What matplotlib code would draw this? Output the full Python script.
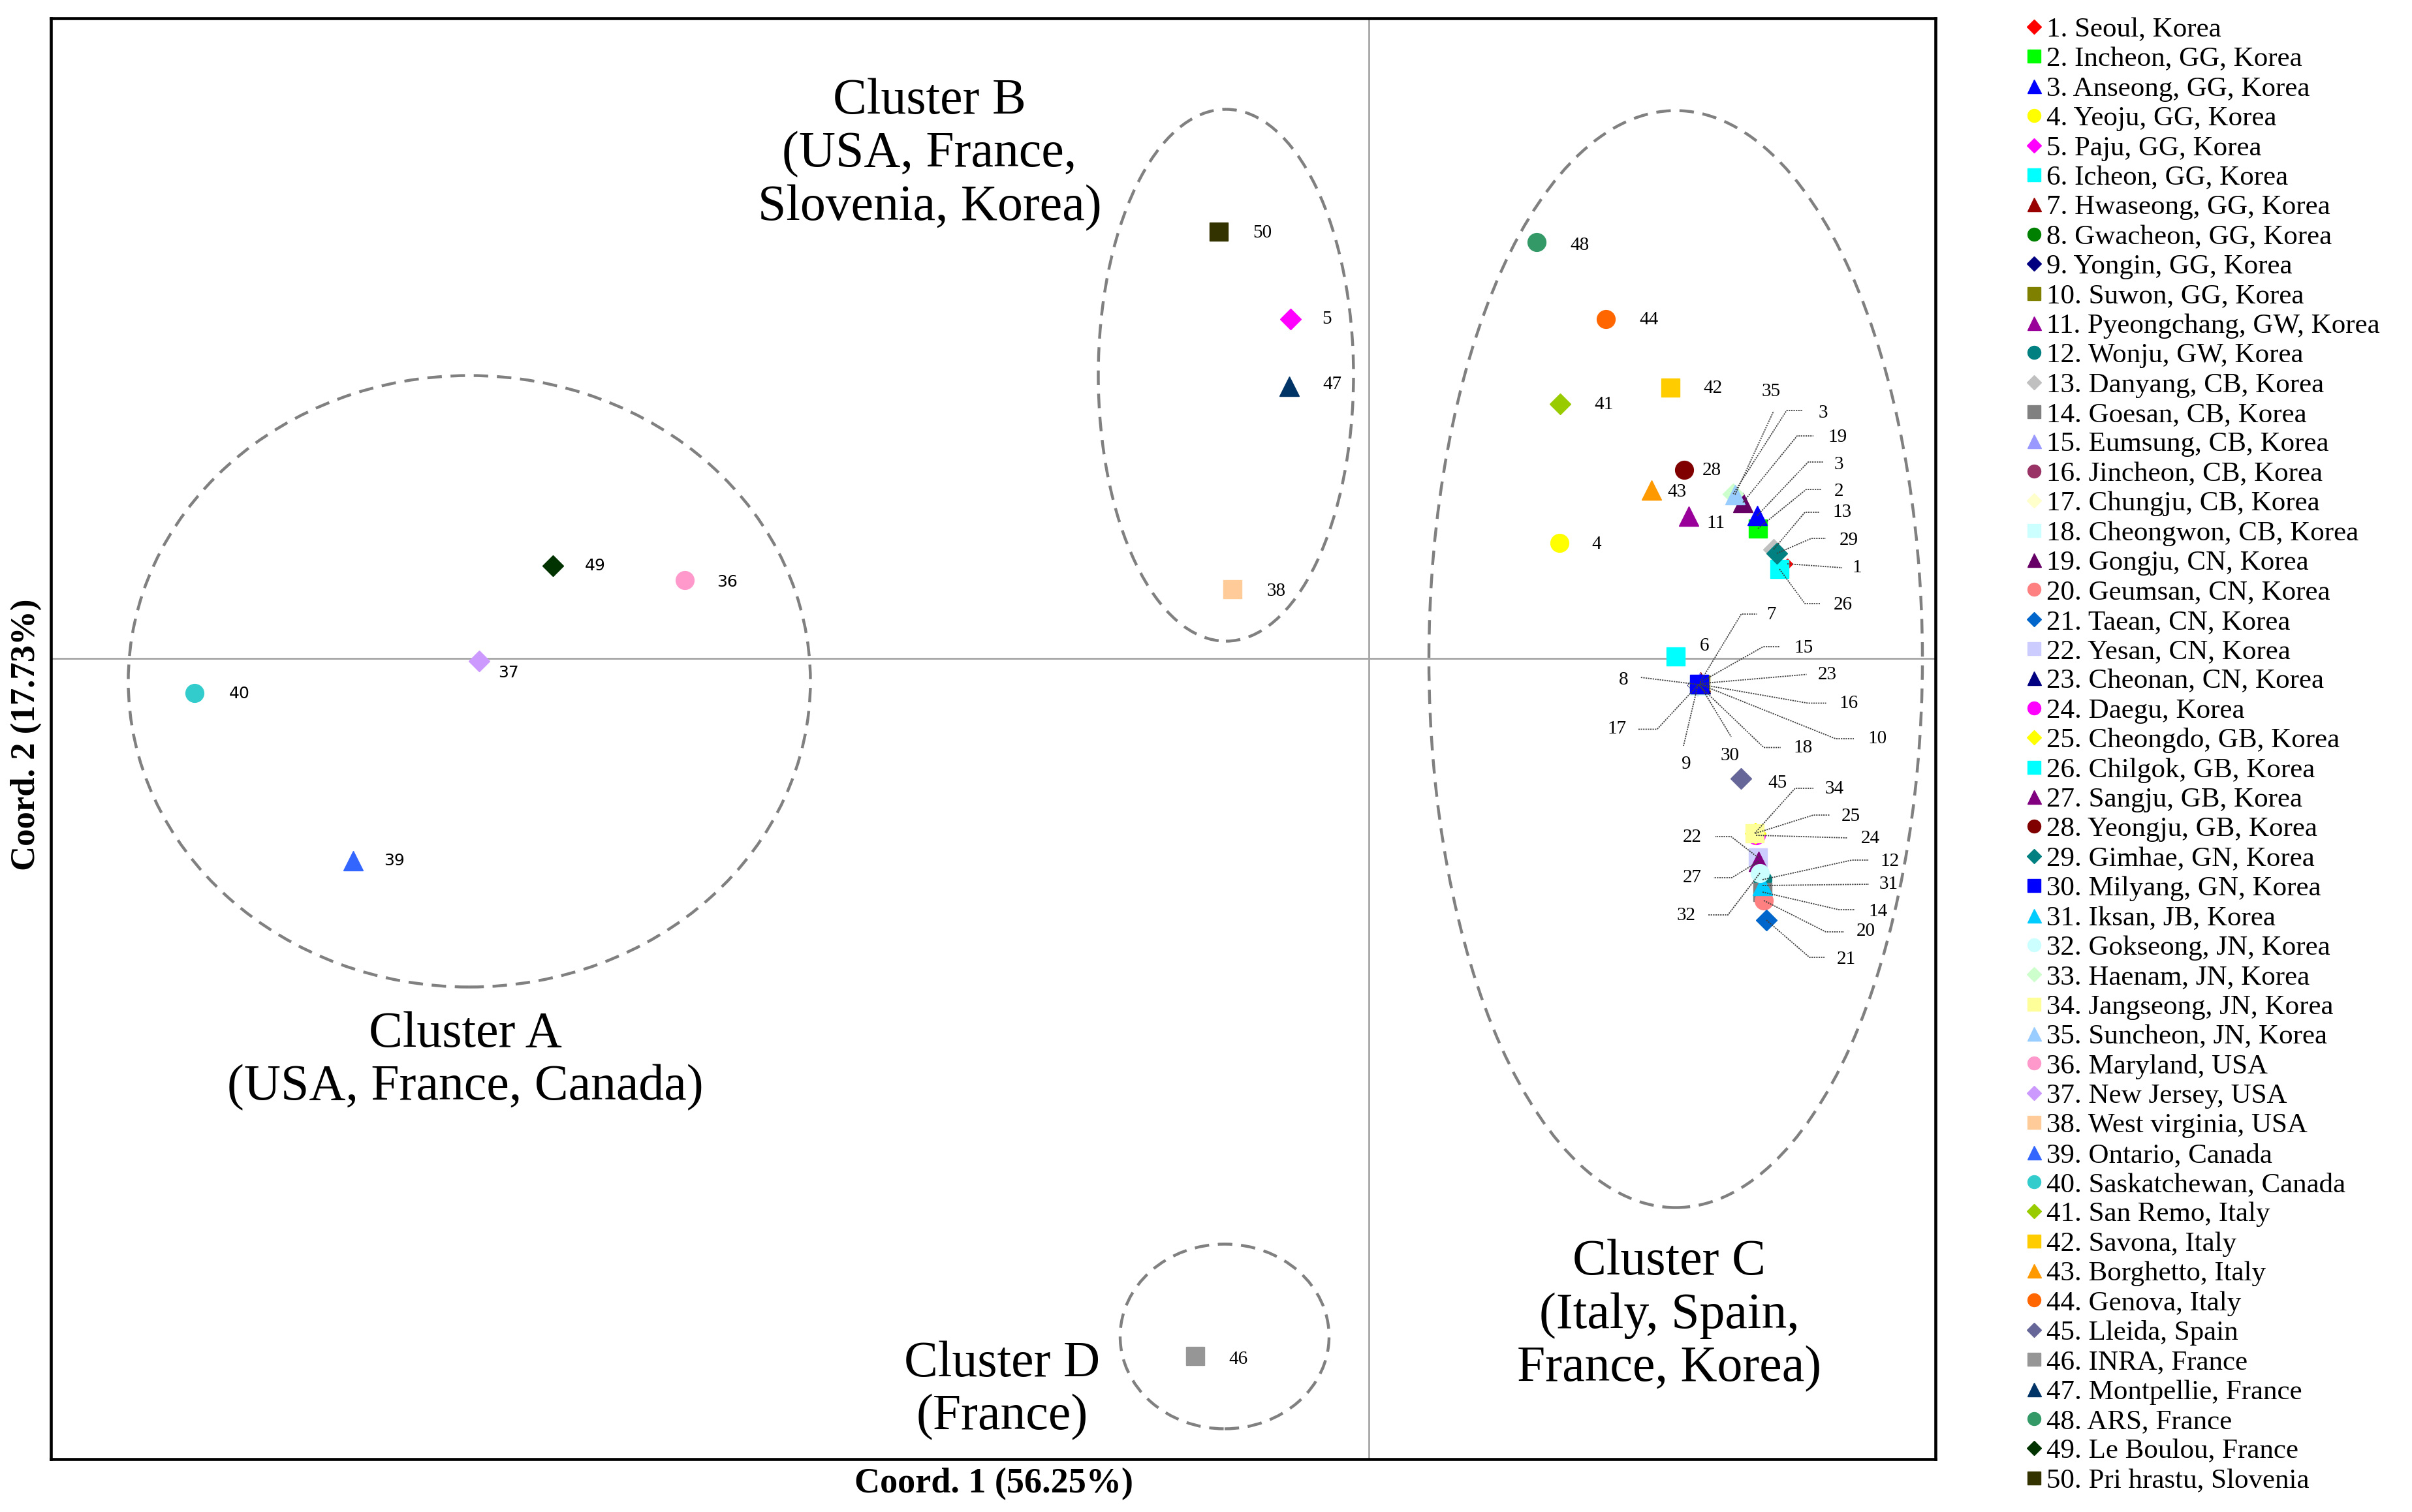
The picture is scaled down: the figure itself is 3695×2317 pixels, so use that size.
import matplotlib
matplotlib.use('Agg')
import matplotlib.pyplot as plt
from matplotlib.patches import Ellipse
from matplotlib.lines import Line2D

plt.rcParams['font.family'] = ['Liberation Serif', 'DejaVu Serif']

# ---------------- data ----------------
names = [
    "Seoul, Korea", "Incheon, GG, Korea", "Anseong, GG, Korea", "Yeoju, GG, Korea",
    "Paju, GG, Korea", "Icheon, GG, Korea", "Hwaseong, GG, Korea", "Gwacheon, GG, Korea",
    "Yongin, GG, Korea", "Suwon, GG, Korea", "Pyeongchang, GW, Korea", "Wonju, GW, Korea",
    "Danyang, CB, Korea", "Goesan, CB, Korea", "Eumsung, CB, Korea", "Jincheon, CB, Korea",
    "Chungju, CB, Korea", "Cheongwon, CB, Korea", "Gongju, CN, Korea", "Geumsan, CN, Korea",
    "Taean, CN, Korea", "Yesan, CN, Korea", "Cheonan, CN, Korea", "Daegu, Korea",
    "Cheongdo, GB, Korea", "Chilgok, GB, Korea", "Sangju, GB, Korea", "Yeongju, GB, Korea",
    "Gimhae, GN, Korea", "Milyang, GN, Korea", "Iksan, JB, Korea", "Gokseong, JN, Korea",
    "Haenam, JN, Korea", "Jangseong, JN, Korea", "Suncheon, JN, Korea", "Maryland, USA",
    "New Jersey, USA", "West virginia, USA", "Ontario, Canada", "Saskatchewan, Canada",
    "San Remo, Italy", "Savona, Italy", "Borghetto, Italy", "Genova, Italy",
    "Lleida, Spain", "INRA, France", "Montpellie, France", "ARS, France",
    "Le Boulou, France", "Pri hrastu, Slovenia",
]

coord1 = [1.282, 1.192, 1.190, 0.584, -0.240, 0.940, 1.015, 1.010, 1.008, 1.016,
          0.980, 1.206, 1.240, 1.206, 1.014, 1.013, 1.009, 1.012, 1.146, 1.210,
          1.218, 1.192, 1.015, 1.186, 1.184, 1.258, 1.194, 0.966, 1.250, 1.012,
          1.206, 1.198, 1.116, 1.182, 1.122, -2.096, -2.726, -0.418, -3.112, -3.598,
          0.586, 0.924, 0.866, 0.726, 1.140, -0.532, -0.244, 0.514, -2.500, -0.460]

coord2 = [0.290, 0.398, 0.438, 0.354, 1.040, 0.006, -0.072, -0.080, -0.082, -0.080,
          0.436, -0.678, 0.334, -0.716, -0.074, -0.079, -0.081, -0.083, 0.478, -0.742,
          -0.802, -0.610, -0.077, -0.542, -0.536, 0.274, -0.622, 0.578, 0.322, -0.078,
          -0.696, -0.658, 0.504, -0.536, 0.502, 0.240, -0.008, 0.212, -0.620, -0.106,
          0.780, 0.830, 0.516, 1.040, -0.368, -2.138, 0.834, 1.276, 0.284, 1.308]

colors = ['#FF0000', '#00FF00', '#0000FF', '#FFFF00', '#FF00FF', '#00FFFF', '#990000', '#008000',
          '#000080', '#808000', '#990099', '#008080', '#C0C0C0', '#808080', '#9999FF', '#993366',
          '#FFFFCC', '#CCFFFF', '#660066', '#FF8080', '#0066CC', '#CCCCFF', '#000080', '#FF00FF',
          '#FFFF00', '#00FFFF', '#800080', '#800000', '#008080', '#0000FF', '#00CCFF', '#CCFFFF',
          '#CCFFCC', '#FFFF99', '#99CCFF', '#FF99CC', '#CC99FF', '#FFCC99', '#3366FF', '#33CCCC',
          '#99CC00', '#FFCC00', '#FF9900', '#FF6600', '#666699', '#969696', '#003366', '#339966',
          '#003300', '#333300']

marker_cycle = ['D', 's', '^', 'o']
point_labels = [str(i) for i in range(1, 51)]
point_labels[32] = '3'   # label of no. 33 is truncated in the original

cluster_texts = ["Cluster A\n(USA, France, Canada)",
                 "Cluster B\n(USA, France,\nSlovenia, Korea)",
                 "Cluster C\n(Italy, Spain,\nFrance, Korea)",
                 "Cluster D\n(France)"]

# ---------------- layout (reference pixel offsets) ----------------
simple_offsets = {4: (57, 2), 5: (55, 0), 6: (44, -16), 11: (41, 11), 28: (42, 1),
                  36: (65, 3), 37: (45, 18), 38: (67, 3), 39: (63, 0), 40: (69, 1),
                  41: (67, 1), 42: (65, 1), 43: (39, 3), 44: (66, 1), 45: (56, 7),
                  46: (66, 5), 47: (66, -3), 48: (66, 5), 49: (65, 0), 50: (67, 2)}
leaders = {
    1: ((107, 6), [(84, 6)]),
    2: ((124, -57), [(74, -60), (97, -60)]),
    3: ((125, -78), [(78, -82), (101, -82)]),
    7: ((109, -103), [(63, -104), (87, -104)]),
    8: ((-115, -7), [(-89, -11)]),
    9: ((-18, 121), [(-22, 93)]),
    10: ((271, 83), [(207, 83), (235, 83)]),
    12: ((195, -28), [(137, -30), (163, -30)]),
    13: ((105, -57), [(48, -57), (70, -57)]),
    14: ((177, 30), [(117, 27), (142, 27)]),
    15: ((159, -53), [(97, -55), (123, -55)]),
    16: ((228, 29), [(166, 29), (194, 29)]),
    17: ((-125, 67), [(-63, 68), (-92, 68)]),
    18: ((159, 95), [(99, 95), (125, 95)]),
    19: ((145, -100), [(83, -102), (108, -102)]),
    20: ((156, 47), [(95, 48), (123, 48)]),
    21: ((122, 60), [(66, 57), (89, 57)]),
    22: ((-101, -31), [(-41, -32), (-66, -32)]),
    23: ((195, -14), [(163, -14)]),
    24: ((175, 5), [(140, 4)]),
    25: ((146, -26), [(89, -28), (114, -28)]),
    26: ((97, 55), [(39, 53), (62, 53)]),
    27: ((-102, 25), [(-41, 25), (-69, 25)]),
    29: ((110, -20), [(53, -23), (75, -23)]),
    30: ((47, 110), [(49, 81)]),
    31: ((193, -2), [(163, -2)]),
    32: ((-113, 65), [(-49, 64), (-79, 64)]),
    33: ((138, -124), [(82, -128), (107, -128)]),
    34: ((122, -68), [(62, -69), (90, -69)]),
    35: ((55, -158), [(59, -128)]),
}

W, H = 3695, 2317
fig = plt.figure(figsize=(W / 100, H / 100), dpi=100)
ax = fig.add_axes([78 / W, 1 - 2236 / H, (2965 - 78) / W, (2236 - 28) / H])
ax.set_xlim(-4.038, 1.736)
ax.set_ylim(-2.454, 1.962)
ax.set_xticks([])
ax.set_yticks([])
for s in ax.spines.values():
    s.set_linewidth(3.3)
    s.set_color('black')

ax.axhline(0, color='#a6a6a6', lw=2.0, zorder=1)
ax.axvline(0, color='#a6a6a6', lw=2.0, zorder=1)

# cluster ellipses
ell_style = dict(fill=False, ec='#808080', lw=3.2, ls=(0, (5, 3)), zorder=2)
ax.add_patch(Ellipse((-2.756, -0.070), 2.090, 1.874, **ell_style))
ax.add_patch(Ellipse((-0.438, 0.868), 0.782, 1.630, **ell_style))
ax.add_patch(Ellipse((0.940, -0.002), 1.512, 3.362, **ell_style))
ax.add_patch(Ellipse((-0.442, -2.078), 0.640, 0.566, **ell_style))

size_by_marker = {'D': 16, 's': 20, '^': 21, 'o': 20}


def px_off(x, y, dx, dy):
    d = ax.transData.transform((x, y))
    return ax.transData.inverted().transform((d[0] + dx, d[1] - dy))


handles = []
for i in range(50):
    m = marker_cycle[i % 4]
    ms = size_by_marker[m] if i != 0 else 8
    ax.plot([coord1[i]], [coord2[i]], ls='none', marker=m, ms=ms, color=colors[i],
            mec=colors[i], zorder=5 + i)
    handles.append(Line2D([], [], ls='none', marker=m, ms=size_by_marker[m] * 0.72,
                          color=colors[i], mec=colors[i]))

sans_labels = (36, 37, 39, 40, 49)
for i in range(50):
    n = i + 1
    x, y = coord1[i], coord2[i]
    if n in simple_offsets:
        dx, dy = simple_offsets[n]
        tx, ty = px_off(x, y, dx, dy)
        fam = ['DejaVu Sans'] if n in sans_labels else ['Liberation Serif']
        fs = 18 if n in sans_labels else 21
        ax.text(tx, ty, point_labels[i], ha='center', va='center', fontsize=fs,
                family=fam, zorder=80)
    elif n in leaders:
        (tdx, tdy), path = leaders[n]
        xs, ys = [x], [y]
        for (pdx, pdy) in path:
            px, py = px_off(x, y, pdx, pdy)
            xs.append(px)
            ys.append(py)
        ax.plot(xs, ys, color='#404040', lw=1.3, ls=(0, (1.2, 0.8)), zorder=70)
        tx, ty = px_off(x, y, tdx, tdy)
        ax.text(tx, ty, point_labels[i], ha='center', va='center', fontsize=21, zorder=80)

# cluster captions
cap = dict(ha='center', va='center', fontsize=56, linespacing=1.18, zorder=90)
ax.text(-2.768, -1.234, cluster_texts[0], **cap)
ax.text(-1.346, 1.544, cluster_texts[1], **cap)
ax.text(0.920, -2.014, cluster_texts[2], **cap)
ax.text(-1.124, -2.244, cluster_texts[3], **cap)

# axis labels
fig.text(1522 / W, 1 - 2274 / H, 'Coord. 1 (56.25%)', ha='center', va='center',
         fontsize=39, fontweight='bold')
fig.text(40 / W, 1 - 1126 / H, 'Coord. 2 (17.73%)', ha='center', va='center',
         fontsize=38, fontweight='bold', rotation=90)

legend_labels = [f"{i + 1}. {nm}" for i, nm in enumerate(names)]
fig.legend(handles, legend_labels, loc='upper left', bbox_to_anchor=(3105 / W, 1 - 26 / H),
           frameon=False, fontsize=31, labelspacing=0.145, handlelength=0.5,
           handletextpad=0.2, borderpad=0, borderaxespad=0)

fig.savefig('out.png', dpi=100)
